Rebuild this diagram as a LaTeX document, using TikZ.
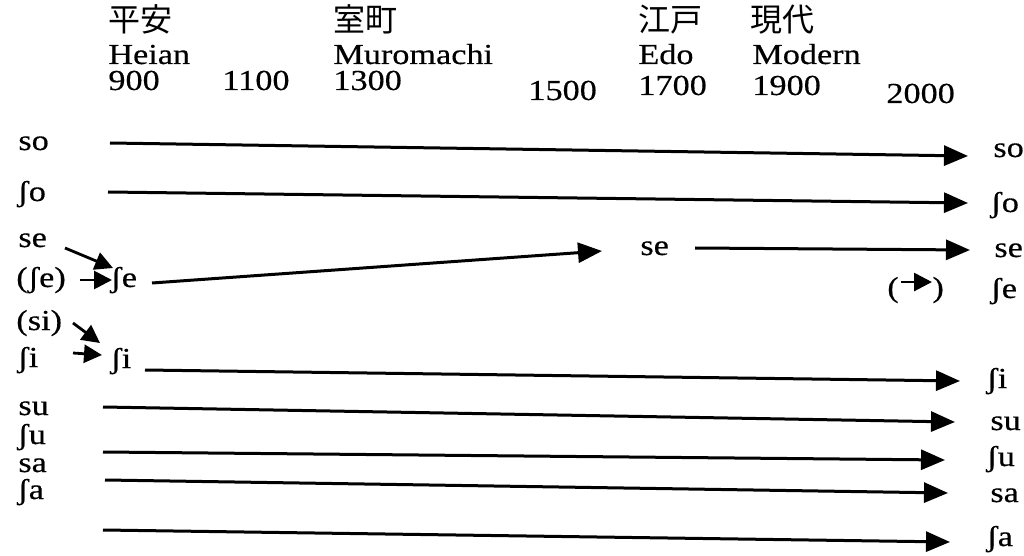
\documentclass[tikz,border=0pt]{standalone}
\usepackage{fontspec}
\setmainfont{Liberation Serif}[FakeStretch=1.18, FakeBold=0.4]
\newfontfamily\jpfont{Noto Sans CJK JP}
\usetikzlibrary{arrows.meta, calc}

\begin{document}
\begin{tikzpicture}[
  x=0.5pt, y=-0.5pt,
  >={Triangle[length=12pt, width=10pt]},
  lbl/.style={anchor=base west, inner sep=0pt, font=\fontsize{14.5}{17}\selectfont},
  era/.style={anchor=base west, inner sep=0pt, font=\fontsize{16}{18}\selectfont\jpfont},
  arr/.style={->, line width=1.5pt},
  short arr/.style={-{Triangle[length=9pt, width=9pt]}, line width=1.4pt}
]
\useasboundingbox (0,0) rectangle (1024,556);

% Periods (header)
\node[era] (heianJ) at (108,32) {平安};
\node[era] (muroJ)  at (333,32) {室町};
\node[era] (edoJ)   at (638,32) {江戸};
\node[era] (modJ)   at (750,32) {現代};
\node[lbl] (heian) at (108,64) {Heian};
\node[lbl] (muro)  at (333,64) {Muromachi};
\node[lbl] (edo)   at (638,64) {Edo};
\node[lbl] (mod)   at (752,64) {Modern};
\node[lbl] (y900)  at (108,90)  {900};
\node[lbl] (y1100) at (222,90)  {1100};
\node[lbl] (y1300) at (333,90)  {1300};
\node[lbl] (y1500) at (528,100) {1500};
\node[lbl] (y1700) at (638,95)  {1700};
\node[lbl] (y1900) at (752,95)  {1900};
\node[lbl] (y2000) at (886,103) {2000};

% Left column (older forms)
\node[lbl] (soL)  at (18,150) {so};
\node[lbl] (shoL) at (17,201) {ʃo};
\node[lbl] (seL)  at (18,247) {se};
\node[lbl] (sheL) at (16,287) {(ʃe)};
\node[lbl] (siL)  at (16,330) {(si)};
\node[lbl] (shiL) at (17,367) {ʃi};
\node[lbl] (suL)  at (18,415) {su};
\node[lbl] (shuL) at (17,444) {ʃu};
\node[lbl] (saL)  at (18,472) {sa};
\node[lbl] (shaL) at (17,499) {ʃa};

% Middle forms
\node[lbl] (sheM) at (110,287) {ʃe};
\node[lbl] (shiM) at (110,368) {ʃi};
\node[lbl] (seM)  at (640,255) {se};

% Right column (modern forms)
\node[lbl] (soR)  at (993,157) {so};
\node[lbl] (shoR) at (990,212) {ʃo};
\node[lbl] (seR)  at (994,257) {se};
\node[lbl] (sheR) at (990,298) {ʃe};
\node[lbl] (lp)   at (887,297) {(};
\node[lbl] (rp)   at (932,297) {)};
\node[lbl] (shiR) at (986,388) {ʃi};
\node[lbl] (suR)  at (990,430) {su};
\node[lbl] (shuR) at (986,466) {ʃu};
\node[lbl] (saR)  at (990,502) {sa};
\node[lbl] (shaR) at (986,546) {ʃa};

% Free ends of the lines
\coordinate (se-m)  at (65,248);  \coordinate (se-n)  at (113,268);
\coordinate (she-m) at (80,280);  \coordinate (she-n) at (112,280);
\coordinate (si-m)  at (73,323);  \coordinate (si-n)  at (100,343);
\coordinate (shi-m) at (73,353);  \coordinate (shi-n) at (102,355);
\coordinate (so-a)  at (110,143); \coordinate (so-b)  at (968,156);
\coordinate (sho-a) at (108,192); \coordinate (sho-b) at (968,203);
\coordinate (she-a) at (152,283); \coordinate (she-b) at (602,251);
\coordinate (se-a)  at (695,248); \coordinate (se-b)  at (970,250);
\coordinate (shi-a) at (145,370); \coordinate (shi-b) at (960,381);
\coordinate (su-a)  at (103,407); \coordinate (su-b)  at (955,422);
\coordinate (shu-a) at (103,452); \coordinate (shu-b) at (945,460);
\coordinate (sa-a)  at (105,480); \coordinate (sa-b)  at (948,493);
\coordinate (sha-a) at (103,530); \coordinate (sha-b) at (950,542);

% Mergers
\draw[short arr] (se-m) -- (se-n);
\draw[short arr] (she-m) -- (she-n);
\draw[short arr] (si-m) -- (si-n);
\draw[short arr] (shi-m) -- (shi-n);

% Long lines
\draw[arr] (so-a) -- (so-b);
\draw[arr] (sho-a) -- (sho-b);
\draw[arr] (she-a) -- (she-b);
\draw[arr] (se-a) -- (se-b);
\draw[arr] (shi-a) -- (shi-b);
\draw[arr] (su-a) -- (su-b);
\draw[arr] (shu-a) -- (shu-b);
\draw[arr] (sa-a) -- (sa-b);
\draw[arr] (sha-a) -- (sha-b);
\draw[short arr] ($(lp.east)+(2,-8)$) -- ($(rp.west)+(0,-8)$);

\end{tikzpicture}
\end{document}
